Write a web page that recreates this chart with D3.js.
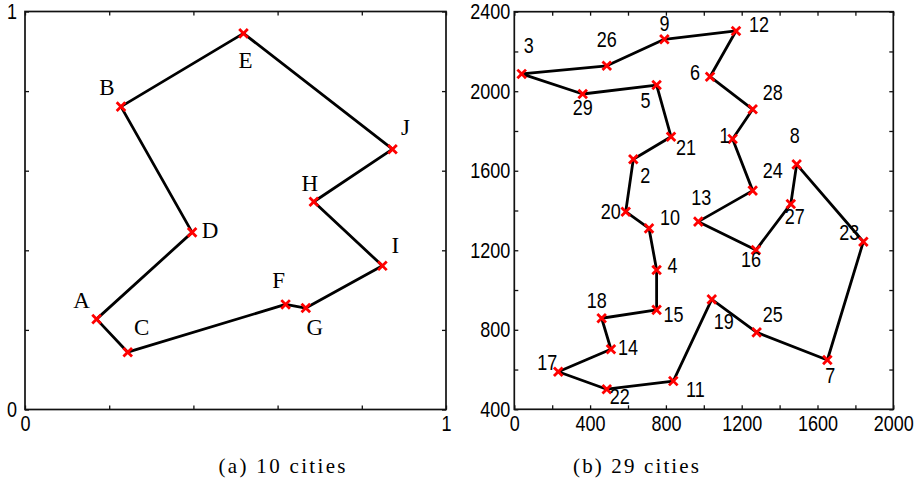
<!DOCTYPE html>
<html><head><meta charset="utf-8">
<script src="https://cdn.jsdelivr.net/npm/d3@7"></script>
<style>
html,body{margin:0;padding:0;background:#fff;}
svg{display:block;}
.num{font-family:"Liberation Sans",Arial,sans-serif;font-size:22.5px;fill:#000;}
.let{font-family:"Liberation Serif","DejaVu Serif",serif;font-size:23px;fill:#000;}
.cap{font-family:"Liberation Serif","DejaVu Serif",serif;font-size:21px;fill:#000;}
</style></head>
<body>
<script>
// ---- Panel (a): 10 cities ----
const namesA = ["A","B","C","D","E","F","G","H","I","J"];
const xA = [0.170,0.228,0.244,0.397,0.519,0.619,0.667,0.686,0.849,0.873];
const yA = [0.227,0.761,0.144,0.445,0.945,0.264,0.255,0.522,0.361,0.654];
const tourA = ["A","D","B","E","J","H","I","G","F","C","A"];
const ticksA = [0,0.2,0.4,0.6,0.8,1];
const tickLabelsA = ["0","1"];
const captionA = "(a) 10 cities";

// ---- Panel (b): 29 cities ----
const idsB = [1,2,3,4,5,6,7,8,9,10,11,12,13,14,15,16,17,18,19,20,21,22,23,24,25,26,27,28,29];
const xB = [1152,628,39,751,751,1033,1652,1490,792,711,839,1170,971,510,751,1275,232,461,1042,588,827,488,1842,1258,1279,488,1459,1258,361];
const yB = [1760,1658,2087,1101,2031,2073,648,1632,2261,1310,542,2303,1344,702,900,1201,589,858,953,1394,1771,501,1243,1500,787,2128,1433,1909,1986];
const tourB = [3,26,9,12,6,28,1,24,13,16,27,8,23,7,25,19,11,22,17,14,18,15,4,10,20,2,21,5,29,3];
const ticksBx = [0,200,400,600,800,1000,1200,1400,1600,1800,2000];
const ticksBy = [400,600,800,1000,1200,1400,1600,1800,2000,2200,2400];
const tickLabelsBx = ["0","400","800","1200","1600","2000"];
const tickLabelsBy = ["400","800","1200","1600","2000","2400"];
const captionB = "(b) 29 cities";

// ---- layout (label offsets in px) ----
const offA = {A:[-15,-19],B:[-14,-20],C:[14,-25],D:[18,-2],E:[2,27],F:[-7,-24],G:[9,19],H:[-4,-19],I:[13,-21],J:[13,-22]};
const offB = {1:[-8,-4],2:[12,16],3:[7,-29],4:[16,-5],5:[-11,15],6:[-15,-5],7:[3,15],8:[-2,-29],9:[0,-16],10:[21,-11],
  11:[22,8],12:[23,-7],13:[3,-25],14:[17,-2],15:[17,4],16:[-5,9],17:[-11,-10],18:[-5,-18],19:[12,22],20:[-15,-1],
  21:[15,10],22:[13,7],23:[-14,-10],24:[20,-21],25:[16,-18],26:[0,-27],27:[4,12],28:[20,-17],29:[0,13]};
const NARROW = 0.8;

const W=922,H=488;
const svg=d3.select("body").append("svg").attr("width",W).attr("height",H);

function narrowText(sel){
  sel.each(function(){
    const t=d3.select(this);
    const x=+t.attr("x")||0, y=+t.attr("y")||0;
    t.attr("x",0).attr("y",0).attr("transform",`translate(${x},${y}) scale(${NARROW},1)`);
  });
}
function box(x,y){
  const [x0,x1]=x.range(), [y0,y1]=y.range();
  svg.append("rect").attr("x",x0).attr("y",y1).attr("width",x1-x0).attr("height",y0-y1)
    .attr("fill","none").attr("stroke","#111").attr("stroke-width",1.7);
}
function axes(x,y,xt,yt,xl,yl,ypad){
  const fx=v=>xl.includes(String(v))?String(v):"";
  const fy=v=>yl.includes(String(v))?String(v):"";
  const [x0,x1]=x.range(), [y0,y1]=y.range();
  const gb=svg.append("g").attr("transform",`translate(0,${y0})`)
    .call(d3.axisBottom(x).tickValues(xt).tickFormat(fx).tickSizeInner(-4).tickSizeOuter(0).tickPadding(6));
  const gt=svg.append("g").attr("transform",`translate(0,${y1})`)
    .call(d3.axisTop(x).tickValues(xt).tickFormat("").tickSizeInner(-4).tickSizeOuter(0));
  const gl=svg.append("g").attr("transform",`translate(${x0},0)`)
    .call(d3.axisLeft(y).tickValues(yt).tickFormat(fy).tickSizeInner(-4).tickSizeOuter(0).tickPadding(ypad));
  const gr=svg.append("g").attr("transform",`translate(${x1},0)`)
    .call(d3.axisRight(y).tickValues(yt).tickFormat("").tickSizeInner(-4).tickSizeOuter(0));
  [gb,gt,gl,gr].forEach(g=>{
    g.select(".domain").remove();
    g.selectAll("line").attr("stroke","#111").attr("stroke-width",1.3);
    g.selectAll("text").attr("class","num").attr("font-family",null).attr("font-size",null).attr("fill",null).call(narrowText);
  });
}
function cross(g,px,py){
  const s=4.3;
  g.append("path").attr("d",`M${px-s},${py-s}L${px+s},${py+s}M${px-s},${py+s}L${px+s},${py-s}`)
    .attr("stroke","#f00").attr("stroke-width",2.8).attr("fill","none");
}

// Panel a
const xa=d3.scaleLinear().domain([0,1]).range([25,446]);
const ya=d3.scaleLinear().domain([0,1]).range([409.5,11.5]);
box(xa,ya);
axes(xa,ya,ticksA,ticksA,tickLabelsA,tickLabelsA,8);
const idxA=n=>namesA.indexOf(n);
svg.append("path").datum(tourA).attr("fill","none").attr("stroke","#000").attr("stroke-width",2.8)
  .attr("stroke-linejoin","round")
  .attr("d",d3.line().x(n=>xa(xA[idxA(n)])).y(n=>ya(yA[idxA(n)])));
const ma=svg.append("g");
namesA.forEach((n,i)=>{
  cross(ma,xa(xA[i]),ya(yA[i]));
  svg.append("text").attr("class","let").attr("x",xa(xA[i])+offA[n][0]).attr("y",ya(yA[i])+offA[n][1])
    .attr("text-anchor","middle").attr("dy","0.35em").text(n);
});
svg.append("text").attr("class","cap").attr("x",282).attr("y",473).attr("text-anchor","middle")
  .attr("textLength",127).attr("lengthAdjust","spacing").text(captionA);

// Panel b
const xb=d3.scaleLinear().domain([0,2000]).range([514.3,893.3]);
const yb=d3.scaleLinear().domain([400,2400]).range([409.3,11.7]);
box(xb,yb);
axes(xb,yb,ticksBx,ticksBy,tickLabelsBx,tickLabelsBy,4);
const idxB=n=>idsB.indexOf(n);
svg.append("path").datum(tourB).attr("fill","none").attr("stroke","#000").attr("stroke-width",2.8)
  .attr("stroke-linejoin","round")
  .attr("d",d3.line().x(n=>xb(xB[idxB(n)])).y(n=>yb(yB[idxB(n)])));
const mb=svg.append("g");
idsB.forEach((n,i)=>{
  cross(mb,xb(xB[i]),yb(yB[i]));
  svg.append("text").attr("class","num").attr("x",xb(xB[i])+offB[n][0]).attr("y",yb(yB[i])+offB[n][1])
    .attr("text-anchor","middle").attr("dy","0.35em").text(n).call(narrowText);
});
svg.append("text").attr("class","cap").attr("x",636).attr("y",473).attr("text-anchor","middle")
  .attr("textLength",126).attr("lengthAdjust","spacing").text(captionB);
</script>
</body></html>
